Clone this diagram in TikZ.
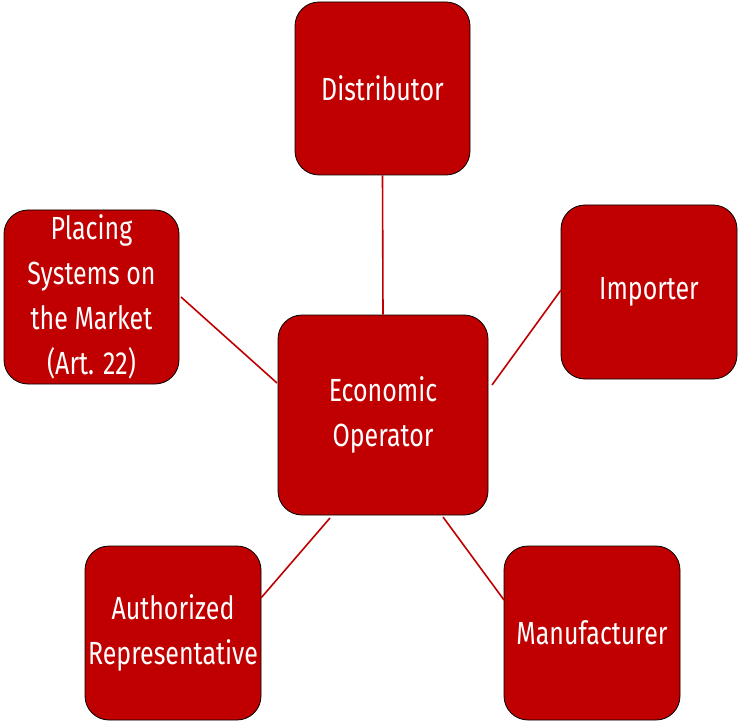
\documentclass[tikz,border=0pt]{standalone}
\usepackage{fontspec}
\setmainfont{Fira Sans}[FakeStretch=0.78]
\begin{document}
\begin{tikzpicture}[x=1pt,y=-1pt,
  box/.style={draw=black,line width=0.8pt,fill={rgb,255:red,192;green,0;blue,0},rounded corners=24pt,
    text=white,align=center,font=\fontsize{32}{45}\selectfont,inner sep=0pt},
  link/.style={draw={rgb,255:red,192;green,0;blue,0},line width=1.6pt}]
\useasboundingbox (0,0) rectangle (739,722);
\node[box,minimum width=175pt,minimum height=173pt] (dist) at (382.5,88.5) {Distributor};
\node[box,minimum width=176pt,minimum height=174pt] (imp) at (649,292) {Importer};
\node[box,minimum width=175pt,minimum height=174pt] (place) at (91.5,297) {Placing\\Systems on\\the Market\\(Art. 22)};
\node[box,minimum width=210pt,minimum height=200pt] (eco) at (383,415) {Economic\\Operator};
\node[box,minimum width=176pt,minimum height=174pt] (auth) at (173,633) {Authorized\\Representative};
\node[box,minimum width=176pt,minimum height=174pt] (manu) at (592,633) {Manufacturer};
\coordinate (e1) at (492,385);
\coordinate (e2) at (277,383);
\coordinate (e3) at (330,518);
\coordinate (e4) at (443,517);
\coordinate (i1) at (561,290);
\coordinate (p1) at (181,297);
\coordinate (a1) at (261,598);
\coordinate (m1) at (504,600);
\draw[link] (dist.south) -- (eco.north);
\draw[link] (i1) -- (e1);
\draw[link] (p1) -- (e2);
\draw[link] (a1) -- (e3);
\draw[link] (m1) -- (e4);
\end{tikzpicture}
\end{document}
